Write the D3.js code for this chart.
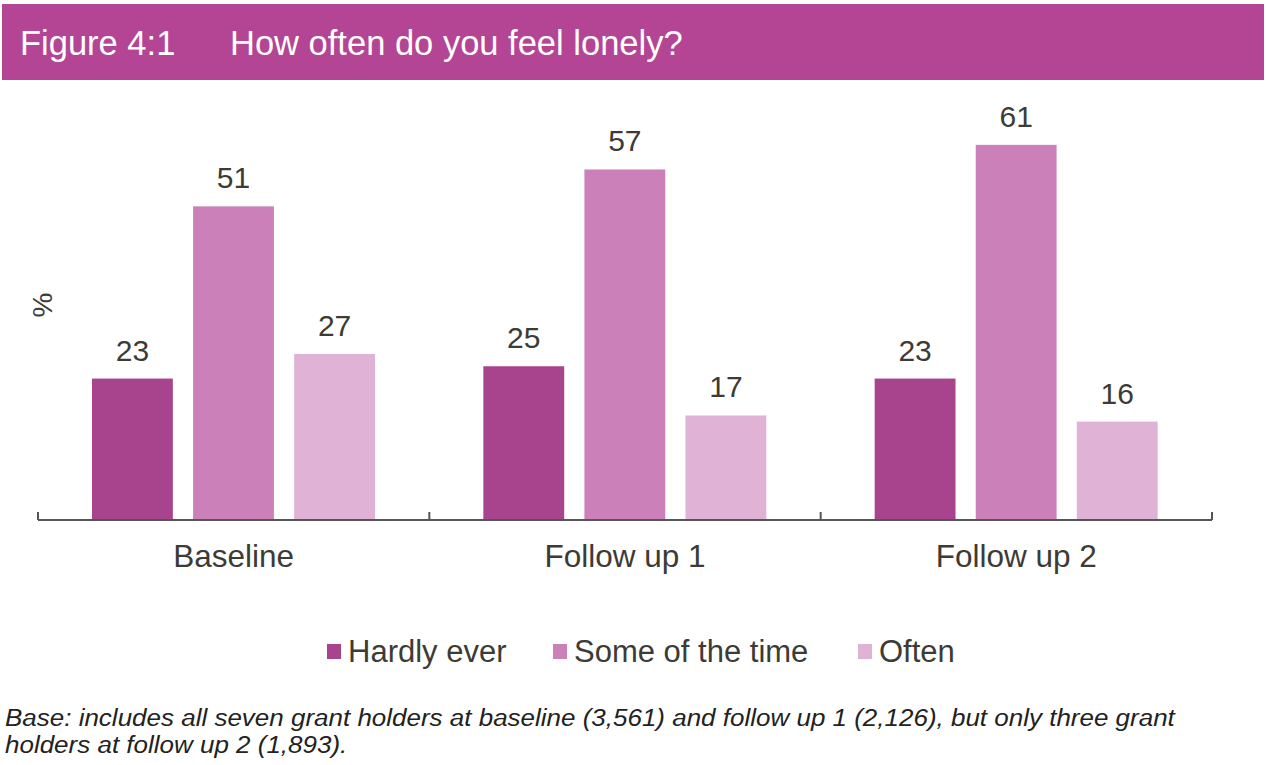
<!DOCTYPE html>
<html>
<head>
<meta charset="utf-8">
<script src="https://cdn.jsdelivr.net/npm/d3@7"></script>
<style>
  body { margin: 0; background: #fff; }
  text { font-family: "Liberation Sans", Arial, sans-serif; }
</style>
</head>
<body>
<script>
// chart data
var categories = ["Baseline", "Follow up 1", "Follow up 2"];
var seriesNames = ["Hardly ever", "Some of the time", "Often"];
var hardlyEver = [23, 25, 23];
var someOfTheTime = [51, 57, 61];
var often = [27, 17, 16];
var colors = ["#a8448e", "#cb80b9", "#e0b3d6"];

var width = 1266, height = 765;
var svg = d3.select("body").append("svg")
  .attr("width", width)
  .attr("height", height);

// header band
svg.append("rect")
  .attr("x", 2).attr("y", 4)
  .attr("width", 1262).attr("height", 76)
  .attr("fill", "#b34594");
svg.append("text")
  .attr("x", 20).attr("y", 55)
  .attr("fill", "#fff").attr("font-size", 34.5)
  .text("Figure 4:1");
svg.append("text")
  .attr("x", 230).attr("y", 55)
  .attr("fill", "#fff").attr("font-size", 34.5)
  .text("How often do you feel lonely?");

var left = 38, right = 1212, baseY = 520;
var x0 = d3.scaleBand().domain(categories).range([left, right]).paddingInner(0).paddingOuter(0);
var x1 = d3.scaleBand().domain(seriesNames).range([54, 337]).paddingInner(0.2);
var y = d3.scaleLinear().domain([0, 70]).range([baseY, baseY - 70 * 6.15]);

var rows = categories.map(function(c, i){
  return {cat: c, vals: [hardlyEver[i], someOfTheTime[i], often[i]]};
});

var g = svg.selectAll("g.grp").data(rows).enter().append("g")
  .attr("class", "grp")
  .attr("transform", function(d){ return "translate(" + x0(d.cat) + ",0)"; });

g.selectAll("rect").data(function(d){
    return d.vals.map(function(v, j){ return {name: seriesNames[j], v: v, j: j}; });
  }).enter().append("rect")
  .attr("x", function(d){ return x1(d.name); })
  .attr("width", x1.bandwidth())
  .attr("y", function(d){ return y(d.v); })
  .attr("height", function(d){ return baseY - y(d.v); })
  .attr("fill", function(d){ return colors[d.j]; });

g.selectAll("text.val").data(function(d){
    return d.vals.map(function(v, j){ return {name: seriesNames[j], v: v}; });
  }).enter().append("text")
  .attr("class", "val")
  .attr("x", function(d){ return x1(d.name) + x1.bandwidth() / 2; })
  .attr("y", function(d){ return y(d.v) - 18; })
  .attr("text-anchor", "middle")
  .attr("font-size", 30)
  .attr("fill", "#3d3b36")
  .text(function(d){ return d.v; });

// x axis with upward ticks at group boundaries
svg.append("line")
  .attr("x1", left).attr("x2", right)
  .attr("y1", baseY).attr("y2", baseY)
  .attr("stroke", "#555").attr("stroke-width", 2);
var tickXs = categories.map(function(c){ return x0(c); }).concat([right]);
svg.selectAll("line.tick").data(tickXs).enter().append("line")
  .attr("class", "tick")
  .attr("x1", function(d){ return d; }).attr("x2", function(d){ return d; })
  .attr("y1", baseY - 8).attr("y2", baseY)
  .attr("stroke", "#555").attr("stroke-width", 2);

svg.selectAll("text.cat").data(categories).enter().append("text")
  .attr("class", "cat")
  .attr("x", function(d){ return x0(d) + x0.bandwidth() / 2; })
  .attr("y", 567)
  .attr("text-anchor", "middle")
  .attr("font-size", 31.5)
  .attr("fill", "#3d3b36")
  .text(function(d){ return d; });

// y label
svg.append("text")
  .attr("transform", "translate(52,305) rotate(-90)")
  .attr("text-anchor", "middle")
  .attr("font-size", 28)
  .attr("fill", "#3d3b36")
  .text("%");

// legend
var legendX = [327, 553, 858];
var leg = svg.selectAll("g.leg").data(seriesNames).enter().append("g")
  .attr("class", "leg")
  .attr("transform", function(d, i){ return "translate(" + legendX[i] + ",644)"; });
leg.append("rect")
  .attr("width", 14).attr("height", 15)
  .attr("fill", function(d, i){ return colors[i]; });
leg.append("text")
  .attr("x", 21).attr("y", 18)
  .attr("font-size", 31)
  .attr("fill", "#3d3b36")
  .text(function(d){ return d; });

// footnote (wide italic, so stretch a bit horizontally)
var notes = ["Base: includes all seven grant holders at baseline (3,561) and follow up 1 (2,126), but only three grant",
             "holders at follow up 2 (1,893)."];
svg.selectAll("text.note").data(notes).enter().append("text")
  .attr("class", "note")
  .attr("transform", function(d, i){ return "translate(5," + (726 + i * 27) + ") scale(1.13,1)"; })
  .attr("font-size", 23)
  .attr("font-style", "italic")
  .attr("fill", "#222")
  .text(function(d){ return d; });
</script>
</body>
</html>
